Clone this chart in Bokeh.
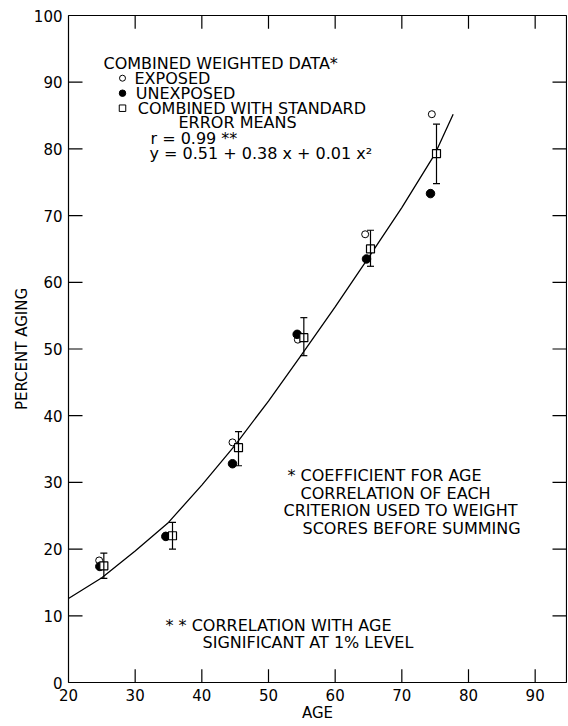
from bokeh.plotting import figure
from bokeh.models import FixedTicker, Range1d, Whisker, TeeHead, ColumnDataSource, Label
from bokeh.embed import file_html
from bokeh.resources import INLINE

# ---- data ----
exposed_x = [24.6, 34.6, 44.6, 54.4, 64.5, 74.5]
exposed_y = [18.3, 22.0, 36.0, 51.4, 67.2, 85.2]
unexposed_x = [24.7, 34.6, 44.6, 54.3, 64.7, 74.3]
unexposed_y = [17.4, 21.9, 32.8, 52.2, 63.5, 73.3]
combined_x = [25.3, 35.6, 45.5, 55.3, 65.3, 75.2]
combined_y = [17.5, 22.0, 35.2, 51.7, 65.0, 79.3]
se_upper = [19.4, 24.0, 37.6, 54.7, 67.8, 83.7]
se_lower = [15.6, 20.0, 32.5, 49.0, 62.4, 74.8]

curve_x = [20, 25, 30, 35, 40, 45, 50, 55, 60, 65, 70, 75, 77.7]
curve_y = [12.6, 15.7, 19.7, 24.0, 29.6, 35.6, 42.2, 49.2, 56.3, 63.7, 71.2, 79.3, 85.2]

x_ticks = [20, 30, 40, 50, 60, 70, 80, 90]
y_ticks = [0, 10, 20, 30, 40, 50, 60, 70, 80, 90, 100]
x_inner_ticks = [30, 40, 50, 60, 70, 80, 90]
y_inner_ticks = [10, 20, 30, 40, 50, 60, 70, 80, 90]

X0, X1, Y0, Y1 = 20, 94.7, 0, 100
TICK_X = 2.1   # inward tick length along x (data units ~ 14 px)
TICK_Y = 2.0   # inward tick length along y

FONT = "DejaVu Sans"
FS = "15px"
NOTE_FS = "16px"

p = figure(width=567, height=725, x_range=Range1d(X0, X1), y_range=Range1d(Y0, Y1),
           output_backend="svg", toolbar_location=None,
           min_border_left=68, min_border_right=1, min_border_top=15, min_border_bottom=43)
p.grid.visible = False
p.background_fill_color = "white"
p.border_fill_color = "white"
p.outline_line_color = "black"
p.outline_line_width = 1.2

for ax, ticks in ((p.xaxis[0], x_ticks), (p.yaxis[0], y_ticks)):
    ax.ticker = FixedTicker(ticks=ticks)
    ax.major_tick_in = 0
    ax.major_tick_out = 0
    ax.minor_tick_line_color = None
    ax.axis_line_color = None
    ax.major_label_text_font = FONT
    ax.major_label_text_font_size = FS
    ax.major_label_text_color = "black"
    ax.axis_label_text_font = FONT
    ax.axis_label_text_font_size = FS
    ax.axis_label_text_font_style = "normal"
    ax.axis_label_text_color = "black"

p.xaxis[0].major_label_standoff = 6
p.xaxis[0].axis_label = "AGE"
p.xaxis[0].axis_label_standoff = 0
p.yaxis[0].major_label_standoff = 6
p.yaxis[0].axis_label = "PERCENT AGING"
p.yaxis[0].axis_label_standoff = 0

# inward tick marks on all four sides
n_x = len(x_inner_ticks)
n_y = len(y_inner_ticks)
tick_style = dict(line_color="black", line_width=1.2)
p.segment(x0=x_inner_ticks, y0=[Y0] * n_x, x1=x_inner_ticks, y1=[Y0 + TICK_Y] * n_x, **tick_style)
p.segment(x0=x_inner_ticks, y0=[Y1] * n_x, x1=x_inner_ticks, y1=[Y1 - TICK_Y] * n_x, **tick_style)
p.segment(x0=[X0] * n_y, y0=y_inner_ticks, x1=[X0 + TICK_X] * n_y, y1=y_inner_ticks, **tick_style)
p.segment(x0=[X1] * n_y, y0=y_inner_ticks, x1=[X1 - TICK_X] * n_y, y1=y_inner_ticks, **tick_style)

# fitted curve
p.line(curve_x, curve_y, line_color="black", line_width=1.3)

# exposed (open circles) and unexposed (filled circles)
p.scatter(exposed_x, exposed_y, marker="circle", size=7, fill_color="white",
          line_color="black", line_width=1)
p.scatter(unexposed_x, unexposed_y, marker="circle", size=8.5, fill_color="black",
          line_color="black")

# standard error bars
err = ColumnDataSource(dict(x=combined_x, upper=se_upper, lower=se_lower))
p.add_layout(Whisker(source=err, base="x", upper="upper", lower="lower",
                     line_color="black", line_width=1.2, level="glyph",
                     upper_head=TeeHead(size=7, line_color="black", line_width=1.2),
                     lower_head=TeeHead(size=7, line_color="black", line_width=1.2)))

# combined means (open squares)
p.scatter(combined_x, combined_y, marker="square", size=8, fill_color="white",
          line_color="black", line_width=1.2)

# key markers of the in-plot legend
key_x = [28.1, 28.1, 28.1]
key_y = [90.6, 88.35, 86.1]
p.scatter(key_x[0:1], key_y[0:1], marker="circle", size=6, fill_color="white",
          line_color="black", line_width=1)
p.scatter(key_x[1:2], key_y[1:2], marker="circle", size=6.5, fill_color="black",
          line_color="black")
p.scatter(key_x[2:3], key_y[2:3], marker="square", size=6.5, fill_color="white",
          line_color="black", line_width=1)

notes = [
    ("COMBINED WEIGHTED DATA*", 25.25, 92.85),
    ("EXPOSED", 29.9, 90.6),
    ("UNEXPOSED", 30.1, 88.35),
    ("COMBINED WITH STANDARD", 30.4, 86.1),
    ("ERROR MEANS", 36.5, 83.9),
    ("r = 0.99 **", 32.3, 81.6),
    ("y = 0.51 + 0.38 x + 0.01 x\u00b2", 32.15, 79.35),
    ("* COEFFICIENT FOR AGE", 52.85, 31.05),
    ("CORRELATION OF EACH", 54.8, 28.35),
    ("CRITERION USED TO WEIGHT", 52.25, 25.8),
    ("SCORES BEFORE SUMMING", 55.1, 23.1),
    ("* * CORRELATION WITH AGE", 34.55, 8.55),
    ("SIGNIFICANT AT 1% LEVEL", 40.1, 6.0),
]
for t, x, y in notes:
    p.add_layout(Label(x=x, y=y, text=t, text_font=FONT, text_font_size=NOTE_FS,
                       text_color="black", text_baseline="middle", text_align="left"))

open("out.html", "w").write(file_html(p, INLINE))
